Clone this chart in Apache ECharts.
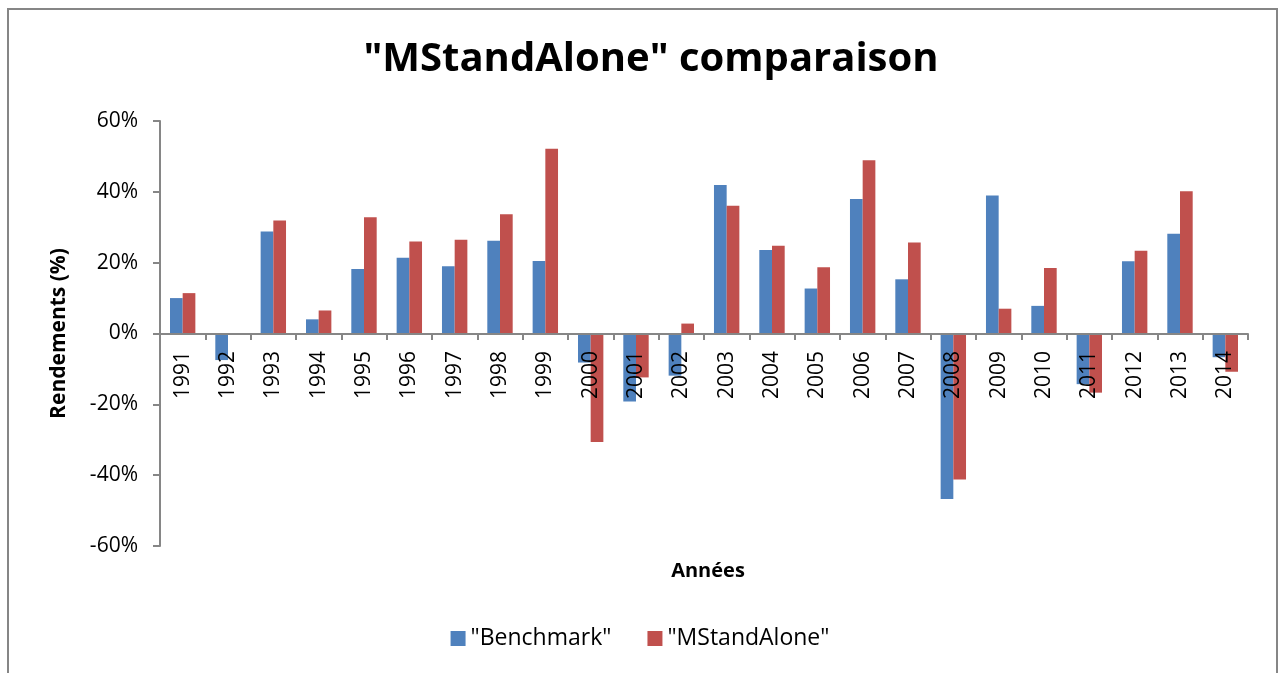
<!DOCTYPE html>
<html>
<head>
<meta charset="utf-8">
<script src="https://cdn.jsdelivr.net/npm/echarts@6/dist/echarts.min.js"></script>
<style>
  html, body { margin: 0; padding: 0; background: #fff; }
  #main { width: 1280px; height: 673px; }
</style>
</head>
<body>
<div id="main"></div>
<script>
// années
var annees = ['1991','1992','1993','1994','1995','1996','1997','1998','1999','2000','2001','2002',
              '2003','2004','2005','2006','2007','2008','2009','2010','2011','2012','2013','2014'];
// rendements en %
var benchmark = [10.0, -7.5, 28.8, 4.0, 18.2, 21.4, 19.0, 26.2, 20.5, -8.2, -19.2, -11.9,
                 41.9, 23.6, 12.7, 38.0, 15.3, -46.7, 39.0, 7.8, -14.3, 20.4, 28.2, -6.7];
var mstandalone = [11.4, 0, 31.9, 6.5, 32.8, 26.0, 26.5, 33.7, 52.2, -30.6, -12.4, 2.8,
                   36.1, 24.8, 18.7, 48.9, 25.7, -41.2, 7.0, 18.5, -16.7, 23.4, 40.2, -10.8];

var font = 'Open Sans';
var axisGrey = '#868686';

var myChart = echarts.init(document.getElementById('main'));
var option = {
    animation: false,
    backgroundColor: '#fff',
    title: [{
        text: '"MStandAlone" comparaison',
        left: 646,
        top: 35,
        textAlign: 'center',
        textStyle: { fontFamily: font, fontWeight: 'bold', fontSize: 40, color: '#000' }
    }, {
        text: 'Années',
        left: 703,
        top: 556,
        textAlign: 'center',
        textStyle: { fontFamily: font, fontWeight: 'bold', fontSize: 20, color: '#000' }
    }],
    legend: {
        data: ['"Benchmark"', '"MStandAlone"'],
        bottom: 18,
        left: 'center',
        itemWidth: 15,
        itemHeight: 15,
        itemGap: 36,
        icon: 'rect',
        textStyle: { fontFamily: font, fontSize: 23, color: '#000' }
    },
    graphic: [{
        type: 'rect',
        shape: { x: 8, y: 9, width: 1269, height: 700 },
        style: { fill: 'none', stroke: axisGrey, lineWidth: 2 },
        silent: true
    }],
    grid: { left: 160, right: 32, top: 121, bottom: 127 },
    xAxis: {
        type: 'category',
        data: annees,
        position: 'bottom',
        offset: -212,
        z: 10,
        axisLine: { onZero: false, lineStyle: { color: axisGrey, width: 2 } },
        axisTick: { show: true, length: 6, lineStyle: { color: axisGrey, width: 2 } },
        axisLabel: { rotate: 90, margin: 17, fontFamily: font, fontSize: 21, color: '#000', interval: 0 }
    },
    yAxis: {
        type: 'value',
        min: -60,
        max: 60,
        interval: 20,
        name: 'Rendements (%)',
        nameLocation: 'middle',
        nameGap: 90,
        nameTextStyle: { fontFamily: font, fontWeight: 'bold', fontSize: 21, color: '#000' },
        axisLine: { show: true, lineStyle: { color: axisGrey, width: 2 } },
        axisTick: { show: true, length: 7, lineStyle: { color: axisGrey, width: 2 } },
        splitLine: { show: false },
        axisLabel: {
            margin: 22,
            fontFamily: font, fontSize: 21, color: '#000',
            formatter: function (v) { return v + '%'; }
        }
    },
    series: [{
        name: '"Benchmark"',
        type: 'bar',
        data: benchmark,
        barGap: '0%',
        barCategoryGap: '44%',
        itemStyle: { color: '#4F81BD' }
    }, {
        name: '"MStandAlone"',
        type: 'bar',
        data: mstandalone,
        itemStyle: { color: '#C0504D' }
    }]
};
myChart.setOption(option);
</script>
</body>
</html>
